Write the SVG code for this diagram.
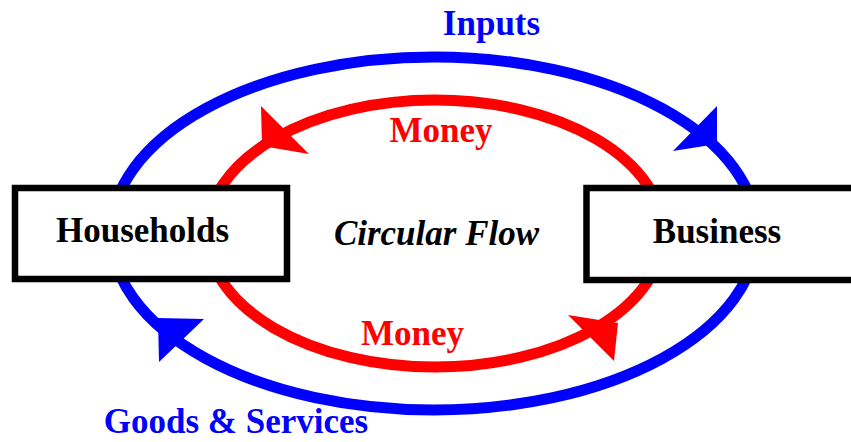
<svg xmlns="http://www.w3.org/2000/svg" width="851" height="442" viewBox="0 0 851 442">
  <style>
    .lbl { font-family: "Liberation Serif", "Times New Roman", serif; font-weight: bold; font-size: 35px; text-anchor: middle; }
    .blue { fill: #0000ff; }
    .red { fill: #ff0000; }
    .blk { fill: #000000; }
    .box { fill: #ffffff; stroke: #000000; stroke-width: 6.5; }
    .ring { fill: none; stroke-width: 11; }
  </style>
  <rect width="851" height="442" fill="#ffffff"/>
  <g id="connectors">
    <ellipse class="ring" cx="434" cy="233.5" rx="323" ry="176.5" stroke="#0000ff"/>
    <ellipse class="ring" cx="435" cy="233.5" rx="228" ry="133.5" stroke="#ff0000"/>
    <polygon class="blue" points="717,144 717,106 673,151"/>
    <polygon class="blue" points="158,318 204,319 159,362"/>
    <polygon class="red" points="262,146 261,106 309,154"/>
    <polygon class="red" points="618,323 568,315 614,361"/>
  </g>
  <g id="households">
    <rect class="box" x="15" y="188" width="272" height="91"/>
    <text class="lbl blk" x="142.5" y="242">Households</text>
  </g>
  <g id="business">
    <rect class="box" x="586.5" y="188" width="300" height="92"/>
    <text class="lbl blk" x="717" y="243">Business</text>
  </g>
  <g id="labels">
    <text class="lbl blk" x="436.5" y="245" font-style="italic" font-size="36">Circular Flow</text>
    <text class="lbl blue" x="491.5" y="35">Inputs</text>
    <text class="lbl red" x="441" y="142">Money</text>
    <text class="lbl red" x="412.5" y="345">Money</text>
    <text class="lbl blue" x="236" y="433">Goods &amp; Services</text>
  </g>
</svg>
